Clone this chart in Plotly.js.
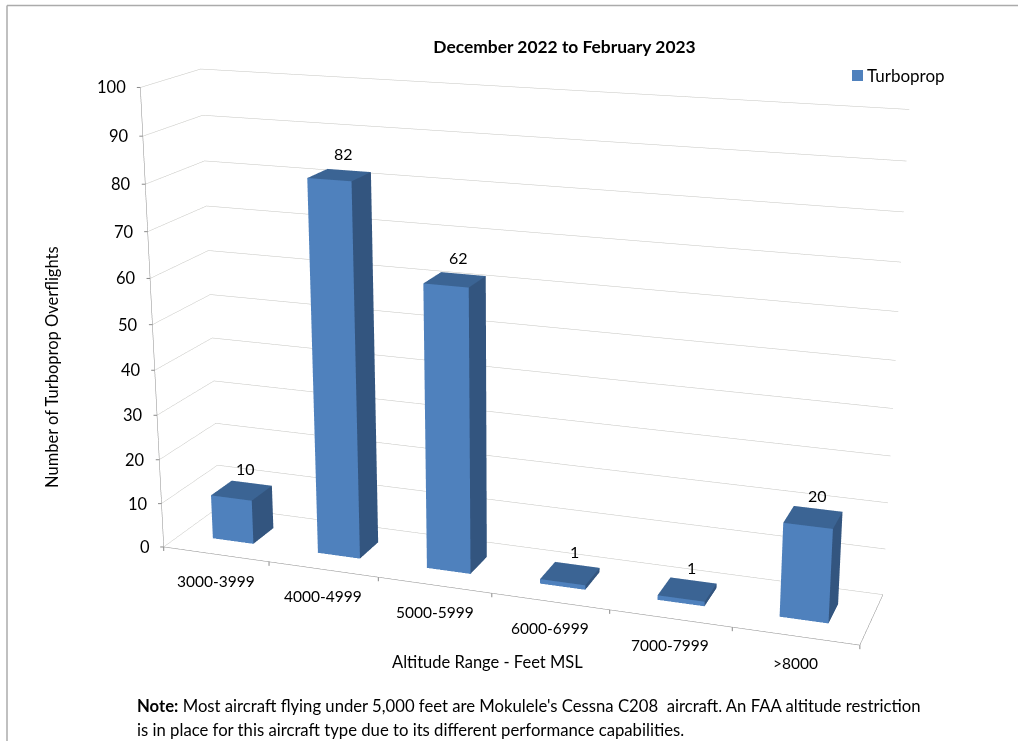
<!DOCTYPE html>
<html><head><meta charset="utf-8">
<script src="https://cdn.plot.ly/plotly-3.0.1.min.js"></script>
<style>html,body{margin:0;background:#fff;overflow:hidden;width:1018px;height:741px}
#w{position:absolute;left:0;top:0;width:1018px;height:741px;overflow:hidden}
#c{position:absolute}</style></head>
<body><div id="w"><div id="c"></div></div>
<script>
const categories=['3000-3999','4000-4999','5000-5999','6000-6999','7000-7999','>8000'];
const values=[10,82,62,1,1,20];
const seriesName='Turboprop';
const yTicks=[0,10,20,30,40,50,60,70,80,90,100];

// The figure is larger than the window and clipped, which narrows Plotly's fixed field of view
const FW=2400,FH=1708,OX=-687,OY=-512;
const c=document.getElementById('c');c.style.left=OX+'px';c.style.top=OY+'px';c.style.width=FW+'px';c.style.height=FH+'px';
const px=x=>(x-OX)/FW, py=y=>1-(y-OY)/FH;

const hw=0.195, dep=0.19;
const front='#4f81bd',side='#33557f',topC='#3b6494';
let X=[],Y=[],Z=[],I=[],J=[],K=[],F=[];
function quad(a,b,c,d,col){const n=X.length;[a,b,c,d].forEach(p=>{X.push(p[0]);Y.push(p[1]);Z.push(p[2])});
 I.push(n,n);J.push(n+1,n+2);K.push(n+2,n+3);F.push(col,col);}
values.forEach((v,i)=>{const x0=i-hw,x1=i+hw,y0=-dep,y1=dep;
 quad([x0,y0,0],[x1,y0,0],[x1,y0,v],[x0,y0,v],front);
 quad([x1,y0,0],[x1,y1,0],[x1,y1,v],[x1,y0,v],side);
 quad([x0,y0,v],[x1,y0,v],[x1,y1,v],[x0,y1,v],topC);
});
const data=[{type:'mesh3d',x:X,y:Y,z:Z,i:I,j:J,k:K,facecolor:F,flatshading:true,name:seriesName,
  lighting:{ambient:1,diffuse:0,specular:0,fresnel:0,roughness:1},showscale:false,hoverinfo:'skip',showlegend:false}];
const FONT='Lato', INK='#000', TICK='#8a8a8a';
const xEdges=[-0.5,0.5,1.5,2.5,3.5,4.5,5.5];
const sceneAnn=[];
values.forEach((v,i)=>sceneAnn.push({x:i,y:0,z:v,text:String(v),showarrow:false,xshift:4,yshift:22,font:{family:FONT,size:16,color:INK}}));
categories.forEach((t,i)=>sceneAnn.push({x:i,y:-0.5,z:0,text:t,showarrow:false,yshift:-27,font:{family:FONT,size:15.5,color:INK}}));
yTicks.forEach(v=>sceneAnn.push({x:-0.5,y:-0.5,z:v,text:String(v),showarrow:false,xanchor:'right',xshift:-12,font:{family:FONT,size:16.5,color:INK}}));
const tick=(x,z,ax,ay)=>({x:x,y:-0.5,z:z,text:' ',showarrow:true,arrowhead:0,arrowwidth:1,arrowcolor:TICK,ax:ax,ay:ay,standoff:0,font:{size:1}});
xEdges.forEach(x=>sceneAnn.push(tick(x,0,0,6)));
yTicks.forEach(v=>sceneAnn.push(tick(-0.5,v,-5,0)));
const ax={showbackground:false,showspikes:false,zeroline:false,title:{text:''},showticklabels:false,ticks:''};
const pa=(x,y,text,extra)=>Object.assign({xref:'paper',yref:'paper',x:px(x),y:py(y),xanchor:'center',yanchor:'middle',text:text,showarrow:false,font:{family:FONT,size:16.5,color:INK}},extra||{});
const layout={width:FW,height:FH,margin:{l:0,r:0,t:0,b:0},paper_bgcolor:'#fff',showlegend:false,
 title:{text:'<b>December 2022 to February 2023</b>',font:{family:FONT,size:17.4,color:INK},x:px(564.5),y:py(47),xanchor:'center',yanchor:'middle'},
 annotations:[
  pa(487.5,662,'Altitude Range - Feet MSL'),
  pa(52,367,'Number of Turboprop Overflights',{textangle:-90}),
  pa(865,76,seriesName,{xanchor:'left',font:{family:FONT,size:17,color:INK}}),
  pa(135,706,"<b>Note:</b> Most aircraft flying under 5,000 feet are Mokulele's Cessna C208  aircraft. An FAA altitude restriction",{xanchor:'left',font:{family:FONT,size:16.7,color:INK}}),
  pa(135,730,"is in place for this aircraft type due to its different performance capabilities.",{xanchor:'left',font:{family:FONT,size:16.7,color:INK}})
 ],
 shapes:[
  {type:'line',xref:'paper',yref:'paper',x0:px(7),x1:px(7),y0:py(5.5),y1:py(741),line:{color:'#ababab',width:1.5}},
  {type:'line',xref:'paper',yref:'paper',x0:px(7),x1:px(1018),y0:py(5.5),y1:py(5.5),line:{color:'#ababab',width:1.5}},
  {type:'rect',xref:'paper',yref:'paper',x0:px(852),x1:px(863),y0:py(70),y1:py(81),fillcolor:front,line:{width:0}}
 ],
 scene:{domain:{x:[0,1],y:[0,1]},aspectmode:'manual',aspectratio:{x:1.512,y:0.26,z:1},annotations:sceneAnn,
  xaxis:{...ax,range:[-0.5,5.5],tickvals:xEdges,showgrid:false,showline:true,linecolor:TICK,linewidth:1},
  yaxis:{...ax,range:[-0.5,0.5],showgrid:false,showline:true,linecolor:TICK,linewidth:1},
  zaxis:{...ax,range:[0,100],tickvals:yTicks,showgrid:true,gridcolor:'#c4c4bf',gridwidth:1,showline:true,linecolor:TICK,linewidth:1},
  camera:{eye:{x:1.3455,y:-3.799,z:1.175},center:{x:0,y:0,z:0},up:{x:0,y:0,z:1},projection:{type:'perspective'}}}};
Plotly.newPlot('c',data,layout,{displayModeBar:false});
</script></body></html>
